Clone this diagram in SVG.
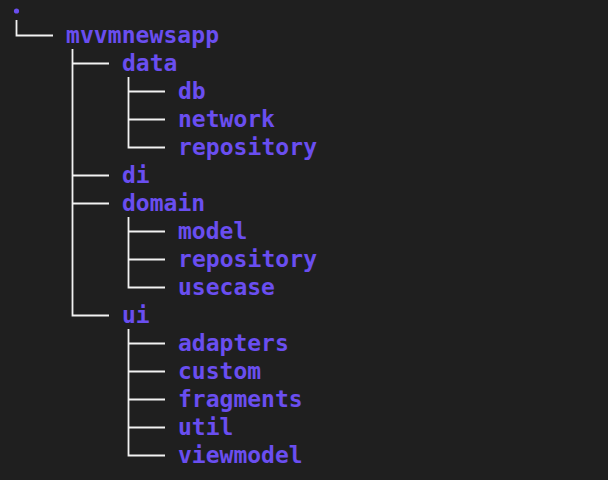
<svg xmlns="http://www.w3.org/2000/svg" width="608" height="480" viewBox="0 0 608 480">
<style>
.t{font-family:"DejaVu Sans Mono","Liberation Mono",monospace;font-weight:bold;font-size:23px;fill:#6a4ef0}
.c{stroke:#f2f2f2;stroke-width:1.8;fill:none}
</style>
<rect width="608" height="480" fill="#1f1f1f"/>
<g id="connectors">
<path class="c" d="M16.5 20V35.5H53"/>
<path class="c" d="M72.5 49V315.5H109M72.5 63.5H109M72.5 175.5H109M72.5 203.5H109"/>
<path class="c" d="M128.5 77V147.5H165M128.5 91.5H165M128.5 119.5H165"/>
<path class="c" d="M128.5 217V287.5H165M128.5 231.5H165M128.5 259.5H165"/>
<path class="c" d="M128.5 329V455.5H165M128.5 343.5H165M128.5 371.5H165M128.5 399.5H165M128.5 427.5H165"/>
</g>
<g id="root"><circle cx="16.5" cy="11" r="2.6" fill="#6a4ef0"/></g>
<g id="mvvmnewsapp"><text class="t" x="66" y="43" textLength="153">mvvmnewsapp</text></g>
<g id="data"><text class="t" x="122" y="71">data</text></g>
<g id="db"><text class="t" x="178" y="99">db</text></g>
<g id="network"><text class="t" x="178" y="127">network</text></g>
<g id="data-repository"><text class="t" x="178" y="155" textLength="139">repository</text></g>
<g id="di"><text class="t" x="122" y="183">di</text></g>
<g id="domain"><text class="t" x="122" y="211">domain</text></g>
<g id="model"><text class="t" x="178" y="239">model</text></g>
<g id="domain-repository"><text class="t" x="178" y="267" textLength="139">repository</text></g>
<g id="usecase"><text class="t" x="178" y="295">usecase</text></g>
<g id="ui"><text class="t" x="122" y="323">ui</text></g>
<g id="adapters"><text class="t" x="178" y="351">adapters</text></g>
<g id="custom"><text class="t" x="178" y="379">custom</text></g>
<g id="fragments"><text class="t" x="178" y="407">fragments</text></g>
<g id="util"><text class="t" x="178" y="435">util</text></g>
<g id="viewmodel"><text class="t" x="178" y="463">viewmodel</text></g>
</svg>
